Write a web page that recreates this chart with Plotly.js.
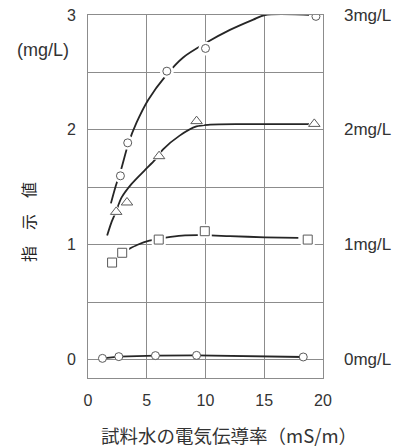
<!DOCTYPE html>
<html>
<head>
<meta charset="utf-8">
<script src="https://cdn.plot.ly/plotly-3.0.1.min.js"></script>
<style>html,body{margin:0;padding:0;background:#fff;}</style>
</head>
<body>
<div id="chart" style="width:400px;height:448px;"></div>
<script>
// Measured points (x: conductivity mS/m, y: indicated value mg/L)
const m3x = [2.76, 3.38, 6.71, 10.0, 19.40];
const m3y = [1.60, 1.887, 2.511, 2.709, 2.988];
const m2x = [2.40, 3.32, 6.05, 9.24, 19.26];
const m2y = [1.286, 1.368, 1.771, 2.076, 2.052];
const m1x = [2.05, 2.91, 6.02, 9.94, 18.70];
const m1y = [0.845, 0.93, 1.045, 1.118, 1.045];
const m0x = [1.23, 2.62, 5.74, 9.24, 18.32];
const m0y = [0.011, 0.026, 0.035, 0.037, 0.023];

// Fitted curves
const c3x = [1.95, 2.33, 2.83, 3.43, 4.12, 5.12, 6.61, 8.1, 10.09, 12.08, 14.07, 15.06, 19.14];
const c3y = [1.36, 1.50, 1.66, 1.88, 2.06, 2.26, 2.47, 2.63, 2.76, 2.87, 2.96, 3.0, 3.0];
const c2x = [1.63, 1.98, 2.39, 2.85, 3.71, 4.84, 5.68, 6.39, 7.8, 9.23, 10.39, 13.07, 18.82];
const c2y = [1.08, 1.19, 1.29, 1.41, 1.53, 1.65, 1.736, 1.83, 1.95, 2.03, 2.045, 2.05, 2.05];
const c1x = [2.08, 2.90, 3.43, 4.22, 5.22, 6.61, 8.0, 9.89, 12.08, 15.06, 17.9];
const c1y = [0.845, 0.93, 0.96, 1.0, 1.035, 1.062, 1.08, 1.083, 1.075, 1.065, 1.06];

const xTicks = [0, 5, 10, 15, 20];
const yTickVals = [0, 0.5, 1, 1.5, 2, 2.5, 3];
const yTickText = ['0', '', '1', '', '2', '', '3'];
const seriesLabels = ['0mg/L', '1mg/L', '2mg/L', '3mg/L'];
const seriesLevels = [0, 1, 2, 3];

const lineC = '#262626';
const mkC = '#5a5a5a';
const font = 'Liberation Sans, Arial, Noto Sans CJK JP, sans-serif';
const cjk = 'Noto Sans CJK JP, sans-serif';

function curve(x, y) {
  return {x: x, y: y, type: 'scatter', mode: 'lines', hoverinfo: 'skip',
    line: {color: lineC, width: 1.8, shape: 'spline', smoothing: 0.8}};
}
function halo(x, y, s) {
  return {x: x, y: y, type: 'scatter', mode: 'markers', hoverinfo: 'skip',
    marker: {symbol: s, size: 14, color: 'white', line: {width: 0}}};
}
function mk(x, y, s, size) {
  return {x: x, y: y, type: 'scatter', mode: 'markers',
    marker: {symbol: s, size: size, color: 'white', line: {color: mkC, width: 1}}};
}

const data = [
  curve(c3x, c3y), curve(c2x, c2y), curve(c1x, c1y),
  halo(m3x, m3y, 'circle'), halo(m2x, m2y, 'triangle-up'), halo(m1x, m1y, 'square'),
  mk(m3x, m3y, 'circle', 8), mk(m2x, m2y, 'triangle-up', 10), mk(m1x, m1y, 'square', 9),
  {x: m0x, y: m0y, type: 'scatter', mode: 'lines+markers',
    line: {color: lineC, width: 1.8},
    marker: {symbol: 'circle', size: 8, color: 'white', line: {color: mkC, width: 1}}}
];

const annotations = seriesLabels.map((t, i) => ({
  text: t, xref: 'paper', yref: 'y', x: 1, y: seriesLevels[i], xshift: 19,
  xanchor: 'left', yanchor: 'middle', showarrow: false,
  font: {family: font, size: 17, color: '#333'}
}));
annotations.push({
  text: '(mg/L)', xref: 'paper', yref: 'paper',
  x: (43 - 88) / 235, y: (378 - 50) / 363, xanchor: 'center', yanchor: 'middle',
  showarrow: false, font: {family: font, size: 18, color: '#333'}
});
annotations.push({
  text: '指　示　値', xref: 'paper', yref: 'paper',
  x: (28 - 88) / 235, y: (378 - 222) / 363, xanchor: 'center', yanchor: 'middle',
  textangle: -90, showarrow: false, font: {family: cjk, size: 16, color: '#222'}
});
annotations.push({
  text: '試料水の電気伝導率（mS/m）', xref: 'paper', yref: 'paper',
  x: (229 - 88) / 235, y: (378 - 435) / 363, xanchor: 'center', yanchor: 'middle',
  showarrow: false, borderpad: 0, font: {family: cjk, size: 18.5, color: '#333'}
});

const axisCommon = {
  showgrid: true, gridcolor: '#8c8c8c', gridwidth: 1,
  showline: true, mirror: true, linecolor: '#8c8c8c', linewidth: 1,
  zeroline: false, ticks: '', fixedrange: true,
  tickfont: {family: font, size: 16, color: '#333'}
};

const layout = {
  width: 400, height: 448,
  margin: {l: 88, r: 77, t: 15, b: 70, pad: 0},
  paper_bgcolor: 'white', plot_bgcolor: 'white',
  showlegend: false,
  xaxis: Object.assign({}, axisCommon, {range: [0, 20], tickvals: xTicks, ticklabelstandoff: 8}),
  yaxis: Object.assign({}, axisCommon, {range: [-0.16, 3], tickvals: yTickVals, ticktext: yTickText, ticklabelstandoff: 8}),
  annotations: annotations
};

Plotly.newPlot('chart', data, layout, {displayModeBar: false, staticPlot: true});
</script>
</body>
</html>
